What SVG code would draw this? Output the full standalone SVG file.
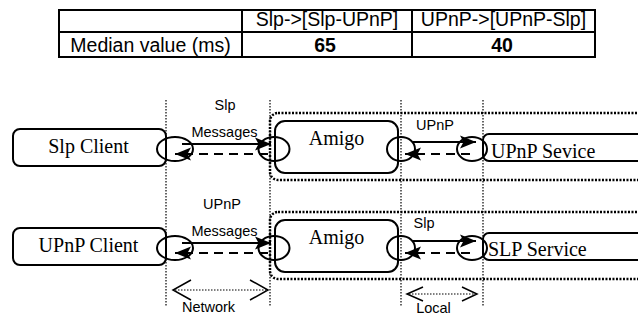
<svg xmlns="http://www.w3.org/2000/svg" width="638" height="320" viewBox="0 0 638 320">
<style>
.box{fill:#fff;stroke:#000;stroke-width:2}
.port{fill:none;stroke:#000;stroke-width:2}
.frame{fill:none;stroke:#000;stroke-width:2.5;stroke-dasharray:2 1.5}
.vline{stroke:#000;stroke-width:1.2;stroke-dasharray:1.5 1.5;fill:none}
.solid{stroke:#000;stroke-width:2;fill:none}
.dash{stroke:#000;stroke-width:2;stroke-dasharray:9 6;fill:none}
.dots{stroke:#000;stroke-width:1.2;stroke-dasharray:1.5 1.5;fill:none}
.chev{stroke:#000;stroke-width:1.5;fill:none}
.grid{stroke:#000;stroke-width:2;fill:none}
.serif{font-family:"Liberation Serif","Times New Roman",serif;font-size:20px;fill:#000}
.sans{font-family:"Liberation Sans",Arial,sans-serif;font-size:14.5px;fill:#000}
.tbl{font-family:"Liberation Sans",Arial,sans-serif;font-size:19.5px;fill:#000}
.c{text-anchor:middle}
.b{font-weight:bold}
</style>
<defs>
<marker id="ah" markerUnits="userSpaceOnUse" markerWidth="18" markerHeight="14" refX="16" refY="7" orient="auto">
<path d="M0,0.5 L16,7 L0,13.5 L3.5,7 z" fill="#000"/>
</marker>
</defs>

<g id="table">
<rect class="grid" x="59" y="10" width="536" height="47"/>
<line class="grid" x1="59" y1="32" x2="595" y2="32"/>
<line class="grid" x1="242" y1="10" x2="242" y2="57"/>
<line class="grid" x1="412" y1="10" x2="412" y2="57"/>
<text class="tbl c" x="327" y="26">Slp-&gt;[Slp-UPnP]</text>
<text class="tbl c" x="503.5" y="26">UPnP-&gt;[UPnP-Slp]</text>
<text class="tbl c" x="150.5" y="52">Median value (ms)</text>
<text class="tbl c b" x="325" y="52">65</text>
<text class="tbl c b" x="502" y="52">40</text>
</g>

<g id="guides">
<line class="vline" x1="166" y1="100" x2="166" y2="306"/>
<line class="vline" x1="270" y1="100" x2="270" y2="306"/>
<line class="vline" x1="401" y1="100" x2="401" y2="306"/>
<line class="vline" x1="483" y1="100" x2="483" y2="306"/>
</g>

<g id="amigo-frame-1"><rect class="frame" x="270" y="113" width="400" height="67" rx="8"/></g>
<g id="amigo-frame-2"><rect class="frame" x="270" y="212" width="400" height="67" rx="8"/></g>

<g id="slp-client">
<rect class="box" x="13" y="129" width="153" height="37" rx="7"/>
<text class="serif c" x="88.5" y="153">Slp Client</text>
</g>
<g id="amigo-1">
<rect class="box" x="275" y="121" width="123" height="52" rx="10"/>
<text class="serif c" x="336.5" y="145">Amigo</text>
</g>
<g id="upnp-service">
<rect class="box" x="483" y="134" width="180" height="27" rx="6"/>
<text class="serif" x="491" y="157.5">UPnP Sevice</text>
</g>

<g id="upnp-client">
<rect class="box" x="13" y="228" width="153" height="37" rx="7"/>
<text class="serif c" x="88.5" y="252">UPnP Client</text>
</g>
<g id="amigo-2">
<rect class="box" x="275" y="220" width="123" height="52" rx="10"/>
<text class="serif c" x="336.5" y="244">Amigo</text>
</g>
<g id="slp-service">
<rect class="box" x="483" y="233" width="180" height="27" rx="6"/>
<text class="serif" x="488" y="256">SLP Service</text>
</g>

<g id="ports">
<ellipse class="port" cx="175" cy="149" rx="18" ry="12"/>
<ellipse class="port" cx="274" cy="149" rx="15.5" ry="12"/>
<ellipse class="port" cx="401" cy="149" rx="14" ry="12"/>
<ellipse class="port" cx="472" cy="149" rx="15" ry="12"/>
<ellipse class="port" cx="175" cy="248" rx="18" ry="12"/>
<ellipse class="port" cx="274" cy="248" rx="15.5" ry="12"/>
<ellipse class="port" cx="401" cy="248" rx="14" ry="12"/>
<ellipse class="port" cx="472" cy="248" rx="15" ry="12"/>
</g>

<g id="connectors">
<line class="solid" x1="182" y1="144" x2="271" y2="144" marker-end="url(#ah)"/>
<line class="dash" x1="268" y1="154" x2="175" y2="154" marker-end="url(#ah)"/>
<line class="solid" x1="413" y1="142" x2="476" y2="142" marker-end="url(#ah)"/>
<line class="dash" x1="470" y1="154" x2="405" y2="154" marker-end="url(#ah)"/>
<line class="solid" x1="182" y1="243" x2="271" y2="243" marker-end="url(#ah)"/>
<line class="dash" x1="268" y1="253" x2="175" y2="253" marker-end="url(#ah)"/>
<line class="solid" x1="413" y1="241" x2="476" y2="241" marker-end="url(#ah)"/>
<line class="dash" x1="470" y1="253" x2="405" y2="253" marker-end="url(#ah)"/>
</g>

<g id="labels">
<text class="sans c" x="225" y="110">Slp</text>
<text class="sans c" x="224.5" y="137">Messages</text>
<text class="sans c" x="435" y="130">UPnP</text>
<text class="sans c" x="222" y="209">UPnP</text>
<text class="sans c" x="224.5" y="236">Messages</text>
<text class="sans c" x="424" y="228">Slp</text>
</g>

<g id="network">
<line class="dots" x1="175" y1="290" x2="266" y2="290"/>
<polyline class="chev" points="191,280 173,290 191,300"/>
<polyline class="chev" points="250,280 268,290 250,300"/>
<text class="sans c" x="208.5" y="312">Network</text>
</g>
<g id="local">
<line class="dots" x1="409" y1="294" x2="475" y2="294"/>
<polyline class="chev" points="423,287 407,294 423,301"/>
<polyline class="chev" points="462,287 477,294 462,301"/>
<text class="sans c" x="433.5" y="313">Local</text>
</g>
</svg>
